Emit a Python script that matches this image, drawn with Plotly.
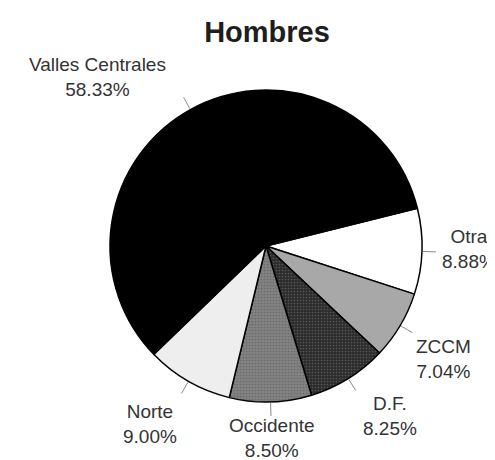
import math
import plotly.graph_objects as go

labels = ["Otra", "ZCCM", "D.F.", "Occidente", "Norte", "Valles Centrales"]
values = [8.88, 7.04, 8.25, 8.50, 9.00, 58.33]
title = "Hombres"

# styles
colors = ["#ffffff", "#a8a8a8", "#2c2c2c", "#828282", "#eeeeee", "#000000"]
pattern_shapes = ["", "", ".", ".", "", ""]
pattern_fg = ["#ffffff", "#a8a8a8", "#555555", "#6a6a6a", "#eeeeee", "#000000"]
label_dist = [1.30, 1.35, 1.35, 1.23, 1.36, 1.53]     # label distance in radii
label_shift = [-1.0, 1.8, -4.3, 0.0, 3.3, -16.0]       # angular nudge, degrees
FONT = "Liberation Sans, Arial, sans-serif"

W, H = 495, 460
cx, cy, r = 258, 238, 156
start = 76.0  # degrees clockwise from 12 o'clock

fig = go.Figure(go.Pie(
    labels=labels,
    values=values,
    sort=False,
    direction="clockwise",
    rotation=start,
    marker=dict(colors=colors, line=dict(color="#000000", width=1.5),
                pattern=dict(shape=pattern_shapes, fgcolor=pattern_fg, bgcolor=colors,
                             size=3, solidity=0.25)),
    textinfo="none",
    showlegend=False,
    hoverinfo="label+percent",
    domain=dict(x=[(cx - r) / W, (cx + r) / W], y=[(H - cy - r) / H, (H - cy + r) / H]),
))

total = sum(values)
cum = 0.0
for lab, v, d, s in zip(labels, values, label_dist, label_shift):
    mid = start + (cum + v / 2) / total * 360.0
    cum += v
    a = math.radians(mid)
    ux, uy = math.sin(a), -math.cos(a)
    x0, y0 = cx + ux * (r + 1), cy + uy * (r + 1)
    x1, y1 = cx + ux * (r + 14), cy + uy * (r + 14)
    fig.add_shape(type="line", xref="paper", yref="paper",
                  x0=x0 / W, y0=1 - y0 / H, x1=x1 / W, y1=1 - y1 / H,
                  line=dict(color="#8a8a8a", width=1))
    b = math.radians(mid + s)
    lx, ly = cx + math.sin(b) * r * d, cy - math.cos(b) * r * d
    fig.add_annotation(xref="paper", yref="paper", x=lx / W, y=1 - ly / H,
                       xanchor="center", yanchor="middle", showarrow=False,
                       text=f"{lab}<br>{v:.2f}%",
                       font=dict(family=FONT, size=19, color="#333333"))

fig.update_layout(
    width=W, height=H,
    margin=dict(l=0, r=0, t=0, b=0),
    paper_bgcolor="white",
    title=dict(text="<b>" + title + "</b>", x=259 / W, xanchor="center", y=1 - 24 / H, yanchor="middle",
               font=dict(family=FONT, size=29, color="#1e1e1e")),
)

fig.write_html("out.html")
